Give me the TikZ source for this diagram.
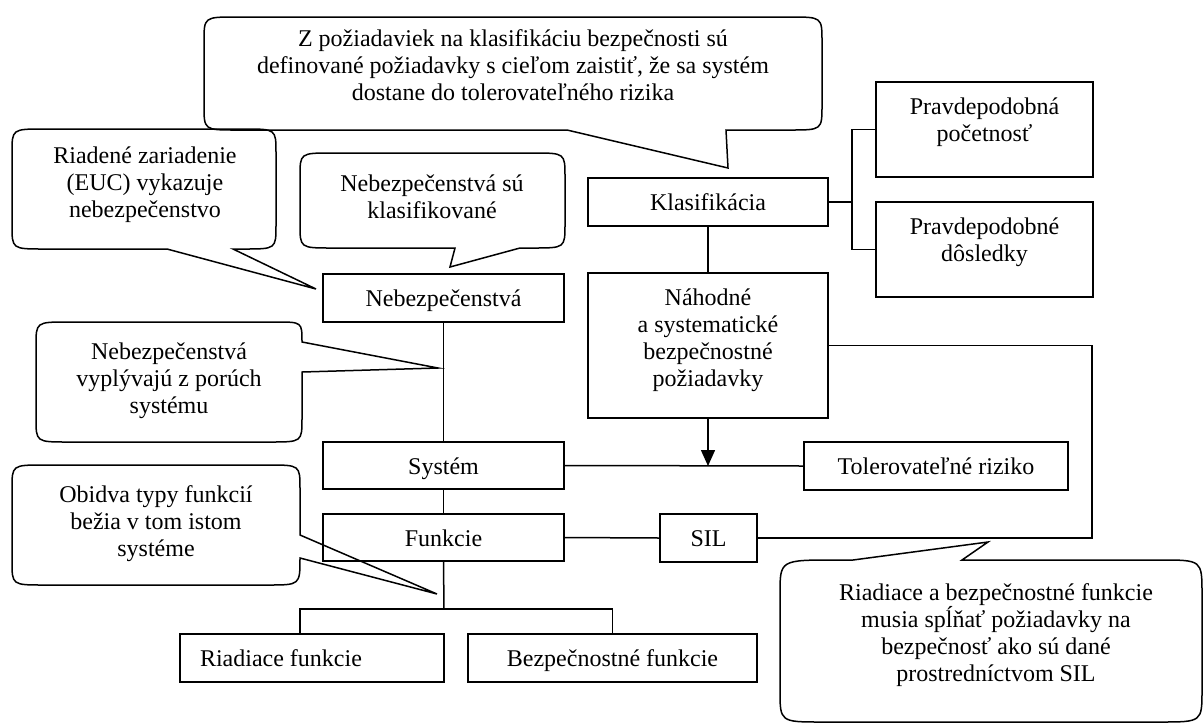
\documentclass[tikz,border=0pt]{standalone}
\usepackage{fontspec}
\setmainfont{Liberation Serif}
\usetikzlibrary{arrows.meta}
\newcommand\liftby[2]{\raisebox{#1}[\height][\depth]{\begin{tabular}{@{}c@{}}#2\end{tabular}}}
\begin{document}
\begin{tikzpicture}[x=1pt,y=-1pt,
  every node/.style={font=\fontsize{24}{27}\selectfont},
  box/.style={draw, line width=1.5pt, inner sep=0pt, align=center, minimum height=48},
  oneline/.style={text height=17pt, text depth=0pt},
  callout/.style={draw, line width=1.5pt, line join=miter},
  txt/.style={align=center, inner sep=0pt},
  conn/.style={line width=1.5pt}]
\useasboundingbox (0,0) rectangle (1203,724);

% ---------- callouts ----------
\draw[callout] (236,17) -- (790,17) .. controls (822,17) .. (822,42) -- (822,105)
  .. controls (822,130) .. (790,130) -- (726,130) -- (728,168) -- (567,130) -- (236,130)
  .. controls (204,130) .. (204,105) -- (204,42) .. controls (204,17) .. (236,17) -- cycle;
\node[txt] (c1) at (513,65) {Z požiadaviek na klasifikáciu bezpečnosti sú\\definované požiadavky s cieľom zaistiť, že sa systém\\dostane do tolerovateľného rizika};

\draw[callout] (44,129) -- (244,129) .. controls (276,129) .. (276,153) -- (276,225)
  .. controls (276,249) .. (244,249) -- (233,249) -- (316,289) -- (167,249) -- (44,249)
  .. controls (12,249) .. (12,225) -- (12,153) .. controls (12,129) .. (44,129) -- cycle;
\node[txt] (c2) at (145,185) {Riadené zariadenie\\(EUC) vykazuje\\nebezpečenstvo};

\draw[callout] (332,153) -- (533,153) .. controls (565,153) .. (565,177) -- (565,224)
  .. controls (565,248) .. (533,248) -- (520,248) -- (450,267) -- (455,248) -- (332,248)
  .. controls (300,248) .. (300,224) -- (300,177) .. controls (300,153) .. (332,153) -- cycle;
\node[txt] (c4) at (432,197) {Nebezpečenstvá sú\\klasifikované};

\draw[callout] (68,322) -- (276,322) .. controls (302,322) .. (302,342) -- (438,368) -- (302,372)
  -- (302,418) .. controls (302,442) .. (270,442) -- (68,442) .. controls (36,442) .. (36,418)
  -- (36,346) .. controls (36,322) .. (68,322) -- cycle;
\node[txt] (c3) at (169,381) {Nebezpečenstvá\\vyplývajú z porúch\\systému};

\draw[callout] (44,465) -- (268,465) .. controls (300,465) .. (300,489) -- (300,535) -- (437,594)
  -- (300,558) .. controls (300,585) .. (268,585) -- (44,585) .. controls (12,585) .. (12,561)
  -- (12,489) .. controls (12,465) .. (44,465) -- cycle;
\node[txt] (c5) at (156,524) {Obidva typy funkcií\\bežia v tom istom\\systéme};

\draw[callout] (780,594) .. controls (780,560) .. (835,560) -- (853,560) -- (988,542) -- (962,560)
  -- (1160,560) .. controls (1202,560) .. (1202,594) -- (1202,690) .. controls (1202,722) .. (1160,722)
  -- (822,722) .. controls (780,722) .. (780,690) -- cycle;
\node[txt] (c6) at (996,635) {Riadiace a bezpečnostné funkcie\\musia spĺňať požiadavky na\\bezpečnosť ako sú dané\\prostredníctvom SIL};

% ---------- boxes ----------
\node[box, oneline, minimum width=240] (klas) at (708,202) {Klasifikácia};
\node[box, minimum width=240, minimum height=145] (nahod) at (708,345.5) {\liftby{5pt}{Náhodné\\a systematické\\bezpečnostné\\požiadavky}};
\node[box, minimum width=217, minimum height=95] (pp) at (984.5,129.5) {\liftby{7pt}{Pravdepodobná\\početnosť}};
\node[box, minimum width=217, minimum height=95] (pd) at (984.5,249.5) {\liftby{7pt}{Pravdepodobné\\dôsledky}};
\node[box, oneline, minimum width=241] (neb) at (443.5,298) {Nebezpečenstvá};
\node[box, oneline, minimum width=241, minimum height=47] (sys) at (443.5,465.5) {Systém};
\node[box, oneline, minimum width=241, minimum height=47] (fun) at (443.5,537.5) {Funkcie};
\node[box, oneline, minimum width=264] (tol) at (936,466) {Tolerovateľné riziko};
\node[box, oneline, minimum width=97] (sil) at (708.5,538) {SIL};
\node[box, oneline, minimum width=264] (riad) at (312,658) {\makebox[224pt][l]{Riadiace funkcie}};
\node[box, oneline, minimum width=289] (bezp) at (612.5,658) {Bezpečnostné funkcie};

% ---------- connectors ----------
\coordinate (kj) at (852,202);
\coordinate (rt) at (1092,345.5);
\coordinate (aj) at (708,466);
\coordinate (tj) at (444,609);
\coordinate (rj) at (300,609);
\coordinate (bj) at (612.5,609);

\draw[conn] (klas.south) -- (nahod.north);
\draw[conn] (klas.east) -- (kj);
\draw[conn] (pp.west) -- (pp.west -| kj) -- (pd.west -| kj) -- (pd.west);
\draw[conn] (nahod.east) -- (rt) |- (sil.east);
\draw[conn, -{Triangle[length=16pt,width=14pt]}] (nahod.south) -- (aj);
\draw[conn] (sys.east) -- (tol.west);
\draw[conn] (neb.south) -- (sys.north);
\draw[conn] (sys.south) -- (fun.north);
\draw[conn] (fun.east) -- (sil.west);
\draw[conn] (fun.south) -- (tj);
\draw[conn] (rj |- riad.north) -- (rj) -- (bj) -- (bezp.north);
\end{tikzpicture}
\end{document}
